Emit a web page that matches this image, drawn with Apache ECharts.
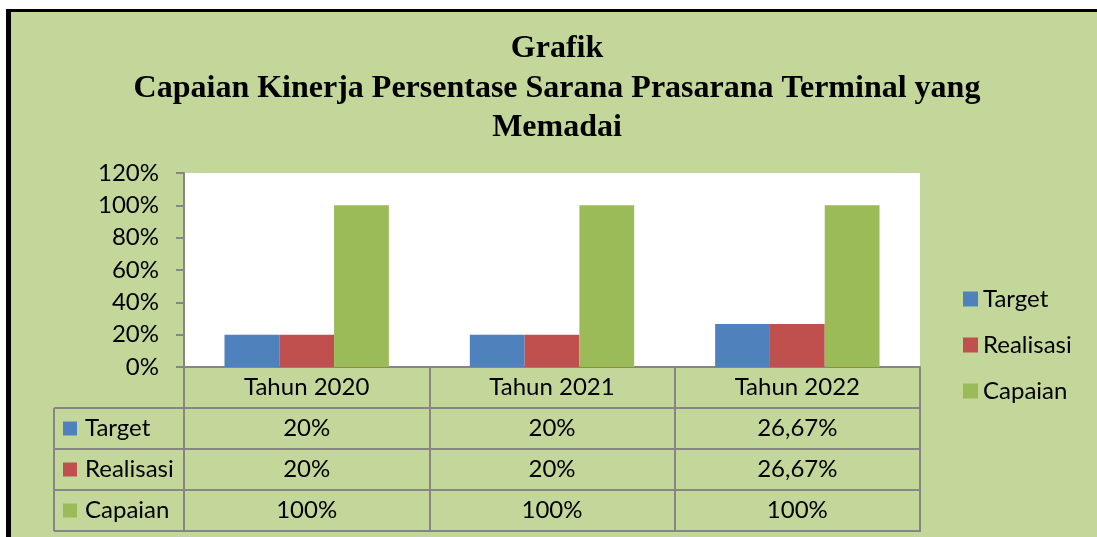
<!DOCTYPE html>
<html>
<head>
<meta charset="utf-8">
<script src="https://cdn.jsdelivr.net/npm/echarts@6/dist/echarts.min.js"></script>
<style>
  html, body { margin: 0; padding: 0; background: #fff; }
  #chart { width: 1097px; height: 537px; }
</style>
</head>
<body>
<div id="chart"></div>
<script>
// Capaian kinerja sarana prasarana terminal
const categories = ['Tahun 2020', 'Tahun 2021', 'Tahun 2022']
const seriesNames = ['Target', 'Realisasi', 'Capaian']
const target = [0.20, 0.20, 0.2667]
const realisasi = [0.20, 0.20, 0.2667]
const capaian = [1.00, 1.00, 1.00]
const tableText = [
  ['20%', '20%', '26,67%'],
  ['20%', '20%', '26,67%'],
  ['100%', '100%', '100%']
]

const colors = ['#4F81BD', '#C0504D', '#9BBB59']
const bg = '#C4D79B'
const lineGray = '#868686'
const font = 'Lato, "Open Sans", sans-serif'
const fs = 24

// layout (px)
const gridLeft = 184, gridRight = 920, gridTop = 173, gridBottom = 367
const rowH = 41
const tableLeft = 54

const chart = echarts.init(document.getElementById('chart'))

const rowAxes = tableText.map((row, i) => ({
  type: 'category',
  data: categories,
  position: 'bottom',
  offset: rowH * (i + 1),
  axisLine: { show: false },
  axisTick: { show: false },
  axisLabel: {
    margin: 8,
    fontFamily: font,
    fontSize: fs,
    color: '#000',
    formatter: (v, idx) => row[idx]
  }
}))

const tableBottom = gridBottom + rowH * 4
const graphics = [
  { type: 'rect', shape: { x: 11, y: 11, width: 1097, height: 537 }, style: { fill: bg }, z: -10 },
  { type: 'rect', shape: { x: 6, y: 9, width: 5, height: 540 }, style: { fill: '#000' } },
  { type: 'rect', shape: { x: 6, y: 9, width: 1097, height: 3 }, style: { fill: '#000' } },
  {
    type: 'text', x: 557, y: 29,
    style: {
      text: 'Grafik\nCapaian Kinerja Persentase Sarana Prasarana Terminal yang\nMemadai',
      align: 'center',
      font: 'bold 32px "Liberation Serif", "Times New Roman", serif',
      lineHeight: 39.5, fill: '#000'
    }
  }
]
// horizontal table lines
for (let i = 1; i <= 4; i++) {
  const y = gridBottom + rowH * i
  graphics.push({ type: 'line', shape: { x1: tableLeft, y1: y, x2: gridRight + 1, y2: y }, style: { stroke: lineGray, lineWidth: 2 } })
}
graphics.push({ type: 'line', shape: { x1: tableLeft, y1: gridBottom + rowH, x2: tableLeft, y2: tableBottom }, style: { stroke: lineGray, lineWidth: 2 } })
// legend keys inside table
seriesNames.forEach((name, i) => {
  const cy = gridBottom + rowH * (i + 1) + rowH / 2
  graphics.push({ type: 'rect', shape: { x: 63, y: cy - 7, width: 14, height: 14 }, style: { fill: colors[i] } })
  graphics.push({ type: 'text', x: 85, y: cy, style: { text: name, font: fs + 'px ' + font, fill: '#000', verticalAlign: 'middle' } })
})

const option = {
  backgroundColor: '#fff',
  animation: false,
  graphic: graphics,
  grid: {
    left: gridLeft, right: 1097 - gridRight, top: gridTop, bottom: 537 - gridBottom,
    show: true, backgroundColor: '#fff', borderWidth: 0
  },
  legend: {
    orient: 'vertical',
    left: 958, top: 282,
    itemWidth: 15, itemHeight: 15, itemGap: 22,
    icon: 'rect',
    textStyle: { fontFamily: font, fontSize: fs, color: '#000' },
    data: seriesNames
  },
  xAxis: [
    {
      type: 'category',
      data: categories,
      position: 'bottom',
      axisLine: { show: true, lineStyle: { color: lineGray, width: 2 } },
      axisTick: { show: true, length: rowH * 4, lineStyle: { color: lineGray, width: 2 } },
      axisLabel: { margin: 8, fontFamily: font, fontSize: fs, color: '#000' }
    },
    ...rowAxes
  ],
  yAxis: {
    type: 'value',
    min: 0, max: 1.2, interval: 0.2,
    axisLine: { show: true, lineStyle: { color: lineGray, width: 2 } },
    axisTick: { show: true, length: 8, lineStyle: { color: lineGray, width: 2 } },
    splitLine: { show: false },
    axisLabel: {
      margin: 25,
      fontFamily: font, fontSize: fs, color: '#000',
      formatter: v => Math.round(v * 100) + '%'
    }
  },
  series: [target, realisasi, capaian].map((d, i) => ({
    name: seriesNames[i],
    type: 'bar',
    data: d,
    barGap: '0%',
    barCategoryGap: '33%',
    itemStyle: { color: colors[i] }
  }))
}

chart.setOption(option)
</script>
</body>
</html>
